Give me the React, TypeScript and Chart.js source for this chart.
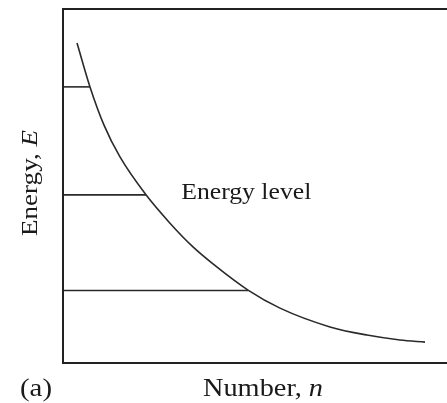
import React, { useEffect, useRef } from "react";
import { Chart, registerables } from "chart.js";

Chart.register(...registerables);

// Curve: energy vs number
const curveX = [0.365, 0.703, 1.068, 1.484, 2.161, 2.786, 3.385, 3.906, 4.818, 5.651, 6.953, 7.917, 8.776, 9.427];
const curveY = [9.04, 7.80, 6.72, 5.82, 4.75, 3.95, 3.28, 2.80, 2.06, 1.55, 1.02, 0.79, 0.65, 0.59];

// Energy levels: y value and x where they meet the curve
const levelY = [7.80, 4.75, 2.05];
const levelEndX = [0.70, 2.16, 4.82];

const curveLabel = "Energy level";
const xTitle = "Number, ";
const xTitleVar = "n";
const yTitle = "Energy, ";
const yTitleVar = "E";
const panelLabel = "(a)";

const FONT = '"Liberation Serif", "DejaVu Serif", serif';

type Part = { text: string; italic?: boolean };

function drawFit(ctx: CanvasRenderingContext2D, parts: Part[], x: number, y: number, target: number, size: number, rot = 0) {
  const fontOf = (p: Part) => `${p.italic ? "italic " : ""}${size}px ${FONT}`;
  let natural = 0;
  for (const p of parts) {
    ctx.font = fontOf(p);
    natural += ctx.measureText(p.text).width;
  }
  const sx = target / natural;
  ctx.save();
  ctx.translate(x, y);
  if (rot) ctx.rotate(rot);
  ctx.scale(sx, 1);
  ctx.textAlign = "left";
  ctx.textBaseline = "alphabetic";
  let cur = 0;
  for (const p of parts) {
    ctx.font = fontOf(p);
    ctx.fillText(p.text, cur, 0);
    cur += ctx.measureText(p.text).width;
  }
  ctx.restore();
}

export default function App() {
  const ref = useRef<HTMLCanvasElement | null>(null);

  useEffect(() => {
    const canvas = ref.current;
    if (!canvas) return;

    const curveData = curveX.map((x, i) => ({ x, y: curveY[i] }));
    const levelSets = levelY.map((y, i) => ({
      type: "line" as const,
      data: [
        { x: 0, y },
        { x: levelEndX[i], y },
      ],
      borderColor: "#2a2a2a",
      borderWidth: 1.6,
      pointRadius: 0,
      fill: false,
    }));

    const decor = {
      id: "decor",
      afterDraw(chart: any) {
        const { ctx, chartArea, scales } = chart;
        const { left, top, right, bottom } = chartArea;
        ctx.save();
        ctx.strokeStyle = "#222";
        ctx.lineWidth = 2;
        ctx.beginPath();
        ctx.moveTo(left, top);
        ctx.lineTo(right, top);
        ctx.moveTo(left, top - 1);
        ctx.lineTo(left, bottom + 1);
        ctx.moveTo(left, bottom);
        ctx.lineTo(right, bottom);
        ctx.stroke();

        ctx.fillStyle = "#1a1a1a";
        // curve label
        drawFit(ctx, [{ text: curveLabel }], scales.x.getPixelForValue(3.08), 199, 130, 24);
        // x title
        drawFit(ctx, [{ text: xTitle }, { text: xTitleVar, italic: true }], 203, 396, 120, 25);
        // panel label
        drawFit(ctx, [{ text: panelLabel }], 20, 396, 32, 25);
        // y title rotated
        drawFit(ctx, [{ text: yTitle }, { text: yTitleVar, italic: true }], 37, 236, 106, 24, -Math.PI / 2);

        ctx.restore();
      },
    };

    const chart = new Chart(canvas, {
      type: "line",
      data: {
        datasets: [
          {
            data: curveData,
            borderColor: "#2a2a2a",
            borderWidth: 1.6,
            pointRadius: 0,
            fill: false,
            cubicInterpolationMode: "monotone",
          },
          ...levelSets,
        ],
      },
      options: {
        animation: false,
        responsive: false,
        maintainAspectRatio: false,
        layout: { padding: { left: 63, right: 0, top: 9, bottom: 40 } },
        plugins: { legend: { display: false }, tooltip: { enabled: false } },
        scales: {
          x: { type: "linear", min: 0, max: 10, display: false },
          y: { type: "linear", min: 0, max: 10, display: false },
        },
      },
      plugins: [decor],
    });

    return () => chart.destroy();
  }, []);

  return (
    <div style={{ position: "fixed", left: 0, top: 0, width: 447, height: 403, background: "#fff" }}>
      <canvas ref={ref} width={447} height={403} style={{ display: "block" }} />
    </div>
  );
}
